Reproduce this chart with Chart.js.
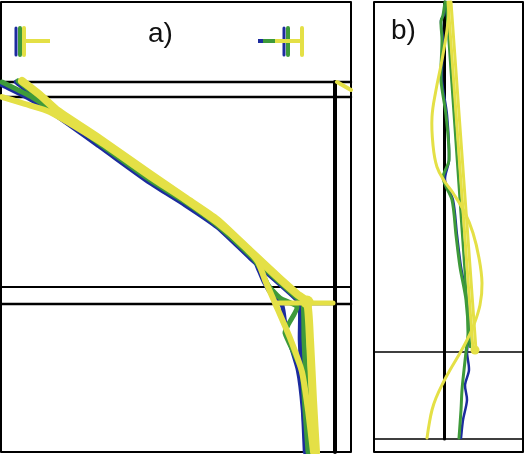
<!DOCTYPE html>
<html>
<head>
<meta charset="utf-8">
<script src="https://cdn.jsdelivr.net/npm/chart.js@4"></script>
<style>
  html, body { margin: 0; padding: 0; background: #fff; }
  #wrap { position: relative; width: 525px; height: 454px; overflow: hidden; }
  .box { position: absolute; top: 0; height: 454px; }
  #boxA { left: 0; width: 353px; }
  #boxB { left: 372px; width: 153px; }
  .lbl { position: absolute; font: 28px "Liberation Sans", Arial, sans-serif; line-height: 1; color: #111; }
</style>
</head>
<body>
<div id="wrap">
  <div class="box" id="boxA"><canvas id="chartA"></canvas></div>
  <div class="box" id="boxB"><canvas id="chartB"></canvas></div>
  <div class="lbl" style="left:148px; top:19px;">a)</div>
  <div class="lbl" style="left:391px; top:16px;">b)</div>
</div>
<script>
/* ================================
   COLOURS
================================ */
const BLUE = "#1c2b9e";
const GREEN = "#3e9a3a";
const YELLOW = "#e4e046";
const BLACK = "#000";

/* ================================
   PANEL A  (x = value, y = depth)
================================ */
const aFrame = [[1,2],[351,2],[351,452],[1,452],[1,2]];
const aRule1 = [[1,82],[351,82]];
const aRule2 = [[1,97],[351,97]];
const aRule3 = [[1,287],[351,287]];
const aRule4 = [[1,304],[351,304]];
const aVert = [[335,82],[335,452]];

const aBlue1 = [[2,85],[28,98],[55,115],[100,147],[150,183],[185,205],[217,227],[250,258],[295,298],[300,305],[300,340],[303,400],[306,452]];
const aBlue2 = [[16,82],[42,103],[60,116],[100,146],[150,182],[185,204],[217,226],[254,259],[258,268],[264,282],[272,295],[282,305],[286,330],[298,370],[303,410],[305,452]];
const aGreen1 = [[2,82],[30,96],[55,112],[100,143],[150,179],[185,201],[217,224],[250,255],[297,298],[303,303],[304,340],[307,400],[310,452]];
const aGreen2 = [[18,81],[45,102],[60,114],[100,144],[150,180],[185,202],[217,225],[252,257],[260,268],[268,285],[280,298],[297,307],[288,325],[285,333],[295,355],[302,372],[305,410],[308,452]];
const aYellow1 = [[22,81],[40,95],[58,111],[100,139],[150,174],[185,198],[217,220],[250,251],[280,279],[297,294],[307,302],[310,340],[313,400],[316,452]];
const aYellow2 = [[2,97],[25,104],[50,112],[100,142],[150,177],[185,200],[217,223],[245,247],[258,262],[265,280],[275,303],[290,338],[302,372],[308,410],[313,452]];
const aYellowBar = [[275,303],[333,303]];
const aYellowDot = [[307,302]];
const aYellowEdge = [[337,82],[351,90]];

// surface error bars in the header strip
const aBarLeftBlue = [[16,28],[16,55]];
const aBarLeftGreen = [[20,28],[20,55]];
const aBarLeftYellow = [[24,28],[24,55]];
const aBarLeftYellowH = [[24,41],[50,41]];
const aBarRightH = { blue: [[258,41],[264,41]], green: [[263,41],[276,41]], yellow: [[275,41],[302,41]] };
const aBarRightBlue = [[284,28],[284,55]];
const aBarRightGreen = [[288,28],[288,55]];
const aBarRightYellow = [[302,28],[302,55]];

/* ================================
   PANEL B
================================ */
const bFrame = [[374,2],[523,2],[523,452],[374,452],[374,2]];
const bRule1 = [[374,352],[523,352]];
const bRule2 = [[374,439],[523,439]];
const bVert = [[444.5,2],[444.5,439]];

const bBlue = [[446,2],[444,15],[441,20],[443,40],[442,80],[447,115],[449,160],[445,180],[453,200],[457,235],[461,267],[467,300],[469,333],[467,352],[469,370],[465,385],[467,400],[463,420],[461,438]];
const bGreen = [[445,2],[443,15],[441,22],[442,40],[441,80],[446,115],[449,160],[443,178],[452,200],[456,235],[460,267],[466,300],[468,333],[466,352],[464,370],[462,390],[461,410],[459,438]];
const bGreenLine = [[446,2],[470,347]];
const bYellowLine1 = [[448,2],[473,350]];
const bYellowLine2 = [[451,2],[476,350]];
const bYellowDot = [[475,350]];
const bYellowCurve = [[450,2],[447,30],[442,60],[436,90],[432,117],[433,145],[437,167],[445,182],[453,193],[465,213],[473,233],[479,258],[482,283],[480,305],[473,327],[466,342],[460,353],[450,370],[443,383],[436,398],[432,410],[429,425],[427,438]];

/* ================================
   HELPERS
================================ */
function line(pts, color, width, order, extra) {
  return Object.assign({
    data: pts.map(p => ({ x: p[0], y: p[1] })),
    showLine: true,
    borderColor: color,
    backgroundColor: color,
    borderWidth: width,
    pointRadius: 0,
    tension: 0,
    clip: false,
    borderCapStyle: "round",
    borderJoinStyle: "round",
    order: order
  }, extra || {});
}

function dot(pts, color, r, order) {
  return {
    data: pts.map(p => ({ x: p[0], y: p[1] })),
    showLine: false,
    pointRadius: r,
    pointBackgroundColor: color,
    pointBorderWidth: 0,
    clip: false,
    order: order
  };
}

function opts(xmin, xmax) {
  return {
    responsive: true,
    maintainAspectRatio: false,
    animation: false,
    devicePixelRatio: 1,
    layout: { padding: 0, autoPadding: false },
    plugins: { legend: { display: false }, tooltip: { enabled: false } },
    scales: {
      x: { type: "linear", min: xmin, max: xmax, display: false },
      y: { type: "linear", min: 0, max: 454, reverse: true, display: false }
    }
  };
}

const smooth = { tension: 0.2 };

/* ================================
   CHARTS
================================ */
new Chart(document.getElementById("chartA"), {
  type: "scatter",
  data: {
    datasets: [
      line(aFrame, BLACK, 2, 9),
      line(aRule1, BLACK, 2.5, 9),
      line(aRule2, BLACK, 2.5, 9),
      line(aRule3, BLACK, 2, 9),
      line(aRule4, BLACK, 2.5, 9),
      line(aVert, BLACK, 4, 9),

      line(aBlue1, BLUE, 4.5, 6, smooth),
      line(aBlue2, BLUE, 4.5, 6, smooth),
      line(aBarLeftBlue, BLUE, 3, 6, { borderCapStyle: "butt" }),
      line(aBarRightBlue, BLUE, 3, 6, { borderCapStyle: "butt" }),
      line(aBarRightH.blue, BLUE, 4, 6, { borderCapStyle: "butt" }),

      line(aGreen1, GREEN, 5, 4, smooth),
      line(aGreen2, GREEN, 5, 4, smooth),
      line(aBarLeftGreen, GREEN, 4, 4, { borderCapStyle: "butt" }),
      line(aBarRightGreen, GREEN, 4, 4, { borderCapStyle: "butt" }),
      line(aBarRightH.green, GREEN, 4, 4, { borderCapStyle: "butt" }),

      line(aYellow1, YELLOW, 8, 2, smooth),
      line(aYellow2, YELLOW, 6, 2, smooth),
      line(aYellowBar, YELLOW, 5, 2),
      line(aYellowEdge, YELLOW, 4, 2),
      dot(aYellowDot, YELLOW, 6.5, 1),
      line(aBarLeftYellow, YELLOW, 4, 2, { borderCapStyle: "butt" }),
      line(aBarLeftYellowH, YELLOW, 4, 2, { borderCapStyle: "butt" }),
      line(aBarRightYellow, YELLOW, 4, 2, { borderCapStyle: "butt" }),
      line(aBarRightH.yellow, YELLOW, 4, 2, { borderCapStyle: "butt" })
    ]
  },
  options: opts(0, 353)
});

new Chart(document.getElementById("chartB"), {
  type: "scatter",
  data: {
    datasets: [
      line(bFrame, BLACK, 2, 9),
      line(bRule1, BLACK, 1.5, 9),
      line(bRule2, BLACK, 1.5, 9),
      line(bVert, BLACK, 3, 9),

      line(bBlue, BLUE, 2.5, 6, { tension: 0.3 }),
      line(bGreen, GREEN, 3, 4, { tension: 0.3 }),
      line(bGreenLine, GREEN, 2.5, 4),

      line(bYellowLine1, YELLOW, 3, 2),
      line(bYellowLine2, YELLOW, 3, 2),
      line(bYellowCurve, YELLOW, 3, 2, { tension: 0.4 }),
      dot(bYellowDot, YELLOW, 4.5, 1)
    ]
  },
  options: opts(372, 525)
});
</script>
</body>
</html>
